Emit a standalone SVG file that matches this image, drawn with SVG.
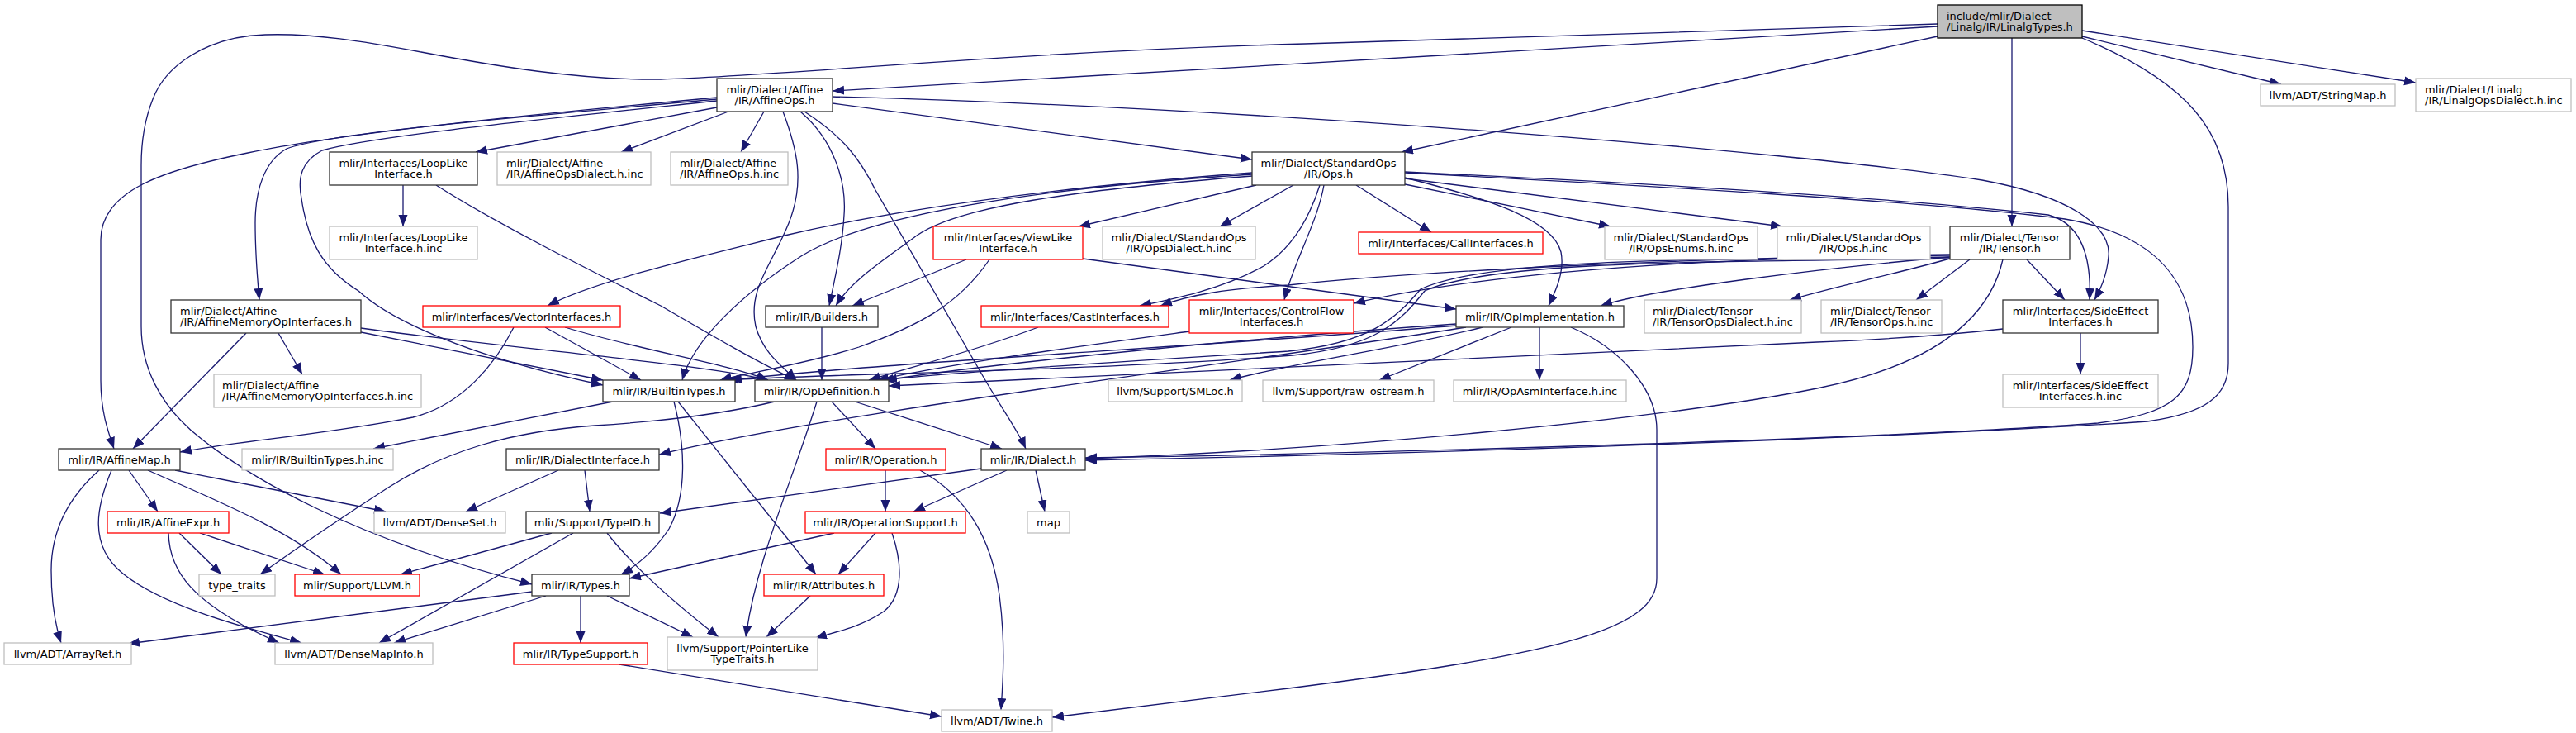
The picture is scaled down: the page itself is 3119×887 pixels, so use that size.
<svg xmlns="http://www.w3.org/2000/svg" width="3119" height="887" viewBox="0 0 3119 887">
<style>
rect{fill:#fff;stroke:#333;stroke-width:1.3}
.g rect{stroke:#bfbfbf}
.r rect{stroke:#ff0000}
.root rect{fill:#bfbfbf;stroke:#000}
text{font-family:"DejaVu Sans","Liberation Sans",sans-serif;font-size:13px;fill:#000}
.c{text-anchor:middle}
#edges path{fill:none;stroke:#191970;stroke-width:1.3;marker-end:url(#a)}
</style>
<defs>
<marker id="a" markerUnits="userSpaceOnUse" markerWidth="15" markerHeight="12" refX="14" refY="5.5" orient="auto"><path d="M0,0 L14,5.5 L0,11 z" fill="#191970"/></marker>
</defs>
<rect x="0" y="0" width="3119" height="887" style="fill:#fff;stroke:none"/>
<g id="edges">
<path d="M2436,46 L2436,274"/>
<path d="M2521,44 L2762,102"/>
<path d="M2521,37 L2925,100"/>
<path d="M2346,32 L1008,110"/>
<path d="M2346,44 L1697,184"/>
<path d="M2346,29 L1580,53 C1200,64 950,92 800,96 C700,97 600,80 510,63 C440,50 380,40 321,42 C250,44 200,80 185,120 C175,145 171,170 171,200 L171,395 C171,440 190,490 245,532 C300,575 420,650 644,707"/>
<path d="M2521,46 C2650,100 2698,160 2698,250 L2698,440 C2698,480 2670,500 2600,510 C2300,530 1700,550 1314,557"/>
<path d="M1008,125 L1516,193"/>
<path d="M1008,117 C1500,130 2150,180 2400,218 C2520,240 2556,280 2553,310 C2551,335 2542,352 2536,363"/>
<path d="M868,118 C650,138 420,160 300,185 C200,205 122,230 122,290 L122,460 C122,500 132,525 138,543"/>
<path d="M868,120 C650,140 400,160 347,180 C320,195 309,230 309,270 C309,310 312,340 314,363"/>
<path d="M868,122 C650,145 450,165 390,182 C365,195 360,215 365,240 C372,290 390,325 434,352 C470,385 560,430 730,466"/>
<path d="M868,130 L576,184"/>
<path d="M882,135 L752,184"/>
<path d="M925,135 L897,184"/>
<path d="M948,135 C965,180 975,220 955,270 C935,320 905,350 915,395 C925,430 950,445 964,460"/>
<path d="M969,135 C1010,170 1025,220 1022,260 C1020,300 1010,340 1004,370"/>
<path d="M974,135 C1020,165 1040,190 1060,230 L1190,455 C1210,490 1232,520 1242,543"/>
<path d="M1521,224 L1306,274"/>
<path d="M1516,209 C1300,225 1100,250 950,285 C850,310 720,340 663,370"/>
<path d="M1516,211 C1250,228 1050,260 970,310 C900,355 840,410 826,460"/>
<path d="M1516,213 C1300,230 1160,250 1110,285 C1070,315 1030,340 1012,370"/>
<path d="M1566,224 L1477,274"/>
<path d="M1598,224 C1585,265 1565,300 1530,322 C1480,350 1420,362 1380,370"/>
<path d="M1603,224 C1595,270 1565,320 1555,363"/>
<path d="M1642,224 L1733,281"/>
<path d="M1701,215 C1800,240 1880,265 1890,305 C1895,330 1882,355 1875,370"/>
<path d="M1701,223 L1950,274"/>
<path d="M1701,216 L2158,274"/>
<path d="M1701,208 C2000,222 2300,240 2480,260 C2525,272 2532,320 2530,363"/>
<path d="M1701,209 C2000,225 2350,245 2500,265 C2620,285 2655,350 2655,420 C2655,480 2630,500 2540,512 C2300,530 1700,548 1314,554"/>
<path d="M2454,314 L2500,363"/>
<path d="M2425,314 C2410,380 2350,440 2200,470 C2000,510 1600,545 1314,555"/>
<path d="M2385,314 L2320,363"/>
<path d="M2361,313 C2300,330 2230,345 2167,363"/>
<path d="M2361,311 C2200,325 2000,350 1938,370"/>
<path d="M2361,309 C2050,312 1800,330 1639,367"/>
<path d="M2361,308 C2000,313 1700,330 1560,345 C1480,350 1440,357 1405,370"/>
<path d="M2361,311 C2050,314 1800,312 1720,350 C1690,385 1660,415 1560,425 C1400,435 1150,450 1068,460"/>
<path d="M2361,313 C2050,317 1805,316 1725,352 C1695,390 1665,420 1565,430 C1300,450 1000,452 880,460"/>
<path d="M1864,396 L1864,460"/>
<path d="M1830,396 L1670,460"/>
<path d="M1795,396 C1700,420 1560,440 1489,460"/>
<path d="M1775,396 C1500,440 1000,500 798,550"/>
<path d="M1902,396 C1960,420 2006,470 2006,520 L2006,700 C2006,760 1900,790 1560,833 L1274,868"/>
<path d="M1763,392 C1500,410 1200,440 1072,460"/>
<path d="M1763,394 C1450,420 1050,440 884,460"/>
<path d="M1170,314 L1032,370"/>
<path d="M1198,314 C1160,370 1110,395 1040,420 C970,442 900,452 872,460"/>
<path d="M1311,313 L1763,374"/>
<path d="M622,396 C600,440 560,490 500,505 C400,525 280,535 218,547"/>
<path d="M660,396 L776,460"/>
<path d="M684,396 C780,425 880,440 930,460"/>
<path d="M298,403 L161,543"/>
<path d="M337,403 L366,453"/>
<path d="M437,402 C550,425 650,445 730,460"/>
<path d="M437,397 C600,420 850,440 930,460"/>
<path d="M488,224 L488,274"/>
<path d="M528,224 C600,270 720,330 800,370 C860,405 920,440 964,460"/>
<path d="M995,396 L995,460"/>
<path d="M1257,396 C1180,425 1100,445 1052,460"/>
<path d="M1440,401 C1300,420 1150,440 1062,460"/>
<path d="M2519,403 L2519,453"/>
<path d="M2425,398 C2380,403 2300,410 2200,414 L1076,467"/>
<path d="M1007,486 L1060,543"/>
<path d="M1035,486 L1213,543"/>
<path d="M989,486 C960,580 915,680 903,771"/>
<path d="M938,486 C880,500 800,510 720,515 C620,522 540,545 470,590 C400,635 350,670 315,695"/>
<path d="M742,486 L452,543"/>
<path d="M816,486 C830,540 832,600 810,640 C790,670 770,685 752,695"/>
<path d="M821,486 L988,695"/>
<path d="M1072,569 L1072,619"/>
<path d="M1114,569 C1170,600 1200,650 1210,720 C1218,780 1214,830 1212,859"/>
<path d="M1219,569 L1106,619"/>
<path d="M1254,569 L1265,619"/>
<path d="M1188,567 L799,621"/>
<path d="M1060,645 L1015,695"/>
<path d="M1080,645 C1092,680 1095,720 1070,740 C1040,760 1010,765 987,772"/>
<path d="M1010,645 L762,700"/>
<path d="M981,721 L928,771"/>
<path d="M676,569 L564,619"/>
<path d="M708,569 L714,619"/>
<path d="M668,645 L485,695"/>
<path d="M694,645 L459,778"/>
<path d="M735,645 C770,690 830,740 870,771"/>
<path d="M644,716 L155,779"/>
<path d="M661,721 L477,778"/>
<path d="M703,721 L703,778"/>
<path d="M735,721 L839,771"/>
<path d="M750,804 L1140,867"/>
<path d="M120,569 C85,600 62,640 62,690 C62,730 68,760 74,778"/>
<path d="M135,569 C118,610 105,660 150,695 C200,735 300,760 365,778"/>
<path d="M156,569 L191,619"/>
<path d="M179,569 C260,605 350,640 413,695"/>
<path d="M212,569 L467,619"/>
<path d="M217,645 L268,695"/>
<path d="M242,645 L393,695"/>
<path d="M204,645 C205,690 230,730 338,778"/>
</g>
<g id="n_root" class="root"><rect x="2346" y="6" width="175" height="40"/><text x="2357" y="23.5">include/mlir/Dialect</text><text x="2357" y="37">/Linalg/IR/LinalgTypes.h</text></g>
<g id="n_affops"><rect x="868" y="95" width="140" height="40"/><text class="c" x="938" y="112.5">mlir/Dialect/Affine</text><text class="c" x="938" y="126">/IR/AffineOps.h</text></g>
<g id="n_strmap" class="g"><rect x="2737" y="102" width="163" height="26"/><text class="c" x="2818.5" y="119.5">llvm/ADT/StringMap.h</text></g>
<g id="n_linopsd" class="g"><rect x="2925" y="95" width="188" height="40"/><text x="2936" y="112.5">mlir/Dialect/Linalg</text><text x="2936" y="126">/IR/LinalgOpsDialect.h.inc</text></g>
<g id="n_looplike"><rect x="399" y="184" width="179" height="40"/><text class="c" x="488.5" y="201.5">mlir/Interfaces/LoopLike</text><text class="c" x="488.5" y="215">Interface.h</text></g>
<g id="n_affdinc" class="g"><rect x="602" y="184" width="186" height="40"/><text x="613" y="201.5">mlir/Dialect/Affine</text><text x="613" y="215">/IR/AffineOpsDialect.h.inc</text></g>
<g id="n_affopsinc" class="g"><rect x="812" y="184" width="142" height="40"/><text x="823" y="201.5">mlir/Dialect/Affine</text><text x="823" y="215">/IR/AffineOps.h.inc</text></g>
<g id="n_stdops"><rect x="1516" y="184" width="185" height="40"/><text class="c" x="1608.5" y="201.5">mlir/Dialect/StandardOps</text><text class="c" x="1608.5" y="215">/IR/Ops.h</text></g>
<g id="n_looplikeinc" class="g"><rect x="399" y="274" width="179" height="40"/><text class="c" x="488.5" y="291.5">mlir/Interfaces/LoopLike</text><text class="c" x="488.5" y="305">Interface.h.inc</text></g>
<g id="n_viewlike" class="r"><rect x="1130" y="274" width="181" height="40"/><text class="c" x="1220.5" y="291.5">mlir/Interfaces/ViewLike</text><text class="c" x="1220.5" y="305">Interface.h</text></g>
<g id="n_opsdinc" class="g"><rect x="1335" y="274" width="185" height="40"/><text class="c" x="1427.5" y="291.5">mlir/Dialect/StandardOps</text><text class="c" x="1427.5" y="305">/IR/OpsDialect.h.inc</text></g>
<g id="n_callif" class="r"><rect x="1645" y="281" width="223" height="26"/><text class="c" x="1756.5" y="298.5">mlir/Interfaces/CallInterfaces.h</text></g>
<g id="n_opsenums" class="g"><rect x="1943" y="274" width="185" height="40"/><text class="c" x="2035.5" y="291.5">mlir/Dialect/StandardOps</text><text class="c" x="2035.5" y="305">/IR/OpsEnums.h.inc</text></g>
<g id="n_opsinc" class="g"><rect x="2152" y="274" width="185" height="40"/><text class="c" x="2244.5" y="291.5">mlir/Dialect/StandardOps</text><text class="c" x="2244.5" y="305">/IR/Ops.h.inc</text></g>
<g id="n_tensor"><rect x="2361" y="274" width="145" height="40"/><text class="c" x="2433.5" y="291.5">mlir/Dialect/Tensor</text><text class="c" x="2433.5" y="305">/IR/Tensor.h</text></g>
<g id="n_affmem"><rect x="207" y="363" width="230" height="40"/><text x="218" y="380.5">mlir/Dialect/Affine</text><text x="218" y="394">/IR/AffineMemoryOpInterfaces.h</text></g>
<g id="n_vector" class="r"><rect x="512" y="370" width="239" height="26"/><text class="c" x="631.5" y="387.5">mlir/Interfaces/VectorInterfaces.h</text></g>
<g id="n_builders"><rect x="927" y="370" width="136" height="26"/><text class="c" x="995" y="387.5">mlir/IR/Builders.h</text></g>
<g id="n_cast" class="r"><rect x="1188" y="370" width="227" height="26"/><text class="c" x="1301.5" y="387.5">mlir/Interfaces/CastInterfaces.h</text></g>
<g id="n_cflow" class="r"><rect x="1440" y="363" width="199" height="40"/><text class="c" x="1539.5" y="380.5">mlir/Interfaces/ControlFlow</text><text class="c" x="1539.5" y="394">Interfaces.h</text></g>
<g id="n_opimpl"><rect x="1763" y="370" width="203" height="26"/><text class="c" x="1864.5" y="387.5">mlir/IR/OpImplementation.h</text></g>
<g id="n_tensordinc" class="g"><rect x="1991" y="363" width="190" height="40"/><text x="2001" y="380.5">mlir/Dialect/Tensor</text><text x="2001" y="394">/IR/TensorOpsDialect.h.inc</text></g>
<g id="n_tensorinc" class="g"><rect x="2205" y="363" width="146" height="40"/><text x="2216" y="380.5">mlir/Dialect/Tensor</text><text x="2216" y="394">/IR/TensorOps.h.inc</text></g>
<g id="n_sideeff"><rect x="2425" y="363" width="188" height="40"/><text class="c" x="2519" y="380.5">mlir/Interfaces/SideEffect</text><text class="c" x="2519" y="394">Interfaces.h</text></g>
<g id="n_affmeminc" class="g"><rect x="259" y="453" width="251" height="40"/><text x="269" y="470.5">mlir/Dialect/Affine</text><text x="269" y="484">/IR/AffineMemoryOpInterfaces.h.inc</text></g>
<g id="n_builtin"><rect x="730" y="460" width="160" height="26"/><text class="c" x="810" y="477.5">mlir/IR/BuiltinTypes.h</text></g>
<g id="n_opdef"><rect x="914" y="460" width="162" height="26"/><text class="c" x="995" y="477.5">mlir/IR/OpDefinition.h</text></g>
<g id="n_smloc" class="g"><rect x="1342" y="460" width="162" height="26"/><text class="c" x="1423" y="477.5">llvm/Support/SMLoc.h</text></g>
<g id="n_rawos" class="g"><rect x="1529" y="460" width="207" height="26"/><text class="c" x="1632.5" y="477.5">llvm/Support/raw_ostream.h</text></g>
<g id="n_opasm" class="g"><rect x="1760" y="460" width="209" height="26"/><text class="c" x="1864.5" y="477.5">mlir/IR/OpAsmInterface.h.inc</text></g>
<g id="n_sideeffinc" class="g"><rect x="2425" y="453" width="188" height="40"/><text class="c" x="2519" y="470.5">mlir/Interfaces/SideEffect</text><text class="c" x="2519" y="484">Interfaces.h.inc</text></g>
<g id="n_affmap"><rect x="71" y="543" width="147" height="26"/><text class="c" x="144.5" y="560.5">mlir/IR/AffineMap.h</text></g>
<g id="n_builtininc" class="g"><rect x="293" y="543" width="183" height="26"/><text class="c" x="384.5" y="560.5">mlir/IR/BuiltinTypes.h.inc</text></g>
<g id="n_dialif"><rect x="613" y="543" width="185" height="26"/><text class="c" x="705.5" y="560.5">mlir/IR/DialectInterface.h</text></g>
<g id="n_operation" class="r"><rect x="1000" y="543" width="145" height="26"/><text class="c" x="1072.5" y="560.5">mlir/IR/Operation.h</text></g>
<g id="n_dialect"><rect x="1188" y="543" width="126" height="26"/><text class="c" x="1251" y="560.5">mlir/IR/Dialect.h</text></g>
<g id="n_affexpr" class="r"><rect x="130" y="619" width="147" height="26"/><text class="c" x="203.5" y="636.5">mlir/IR/AffineExpr.h</text></g>
<g id="n_denseset" class="g"><rect x="453" y="619" width="159" height="26"/><text class="c" x="532.5" y="636.5">llvm/ADT/DenseSet.h</text></g>
<g id="n_typeid"><rect x="637" y="619" width="161" height="26"/><text class="c" x="717.5" y="636.5">mlir/Support/TypeID.h</text></g>
<g id="n_opsupport" class="r"><rect x="975" y="619" width="194" height="26"/><text class="c" x="1072" y="636.5">mlir/IR/OperationSupport.h</text></g>
<g id="n_map" class="g"><rect x="1244" y="619" width="51" height="26"/><text class="c" x="1269.5" y="636.5">map</text></g>
<g id="n_typetraits" class="g"><rect x="241" y="695" width="92" height="26"/><text class="c" x="287" y="712.5">type_traits</text></g>
<g id="n_llvmh" class="r"><rect x="357" y="695" width="151" height="26"/><text class="c" x="432.5" y="712.5">mlir/Support/LLVM.h</text></g>
<g id="n_types"><rect x="644" y="695" width="118" height="26"/><text class="c" x="703" y="712.5">mlir/IR/Types.h</text></g>
<g id="n_attrs" class="r"><rect x="925" y="695" width="145" height="26"/><text class="c" x="997.5" y="712.5">mlir/IR/Attributes.h</text></g>
<g id="n_arrayref" class="g"><rect x="5" y="778" width="154" height="26"/><text class="c" x="82" y="795.5">llvm/ADT/ArrayRef.h</text></g>
<g id="n_densemap" class="g"><rect x="333" y="778" width="191" height="26"/><text class="c" x="428.5" y="795.5">llvm/ADT/DenseMapInfo.h</text></g>
<g id="n_typesupport" class="r"><rect x="622" y="778" width="162" height="26"/><text class="c" x="703" y="795.5">mlir/IR/TypeSupport.h</text></g>
<g id="n_pointerlike" class="g"><rect x="808" y="771" width="182" height="40"/><text class="c" x="899" y="788.5">llvm/Support/PointerLike</text><text class="c" x="899" y="802">TypeTraits.h</text></g>
<g id="n_twine" class="g"><rect x="1140" y="859" width="134" height="26"/><text class="c" x="1207" y="876.5">llvm/ADT/Twine.h</text></g>
</svg>
